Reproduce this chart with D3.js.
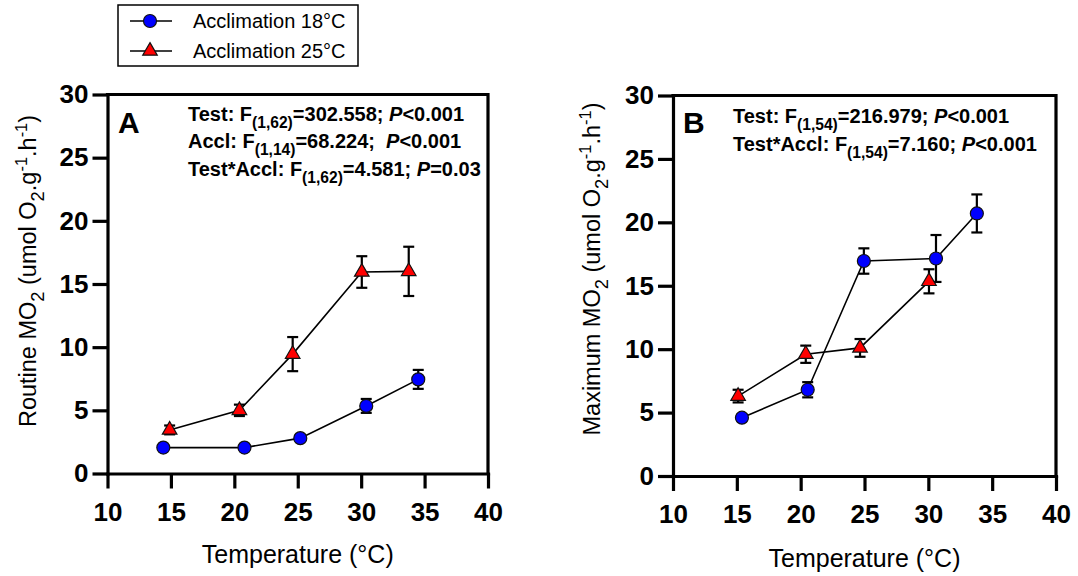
<!DOCTYPE html>
<html><head><meta charset="utf-8">
<script src="https://cdn.jsdelivr.net/npm/d3@7"></script>
<style>body{margin:0;background:#fff}svg{display:block}text{white-space:pre}</style>
</head><body><svg id="c" width="1078" height="576"></svg>
<script>
// ---- data ----
const xTicks = [10, 15, 20, 25, 30, 35, 40];
const yTicks = [0, 5, 10, 15, 20, 25, 30];
const seriesNames = ["Acclimation 18°C", "Acclimation 25°C"];

// Panel A: routine MO2
const tempA18 = [14.4, 20.8, 25.2, 30.4, 34.5];
const routine18 = [2.05, 2.05, 2.8, 5.35, 7.45];
const routine18Err = [0.15, 0.15, 0.2, 0.55, 0.75];
const tempA25 = [14.9, 20.4, 24.6, 30.05, 33.75];
const routine25 = [3.45, 5.0, 9.45, 15.95, 16.0];
const routine25Err = [0.35, 0.45, 1.35, 1.25, 1.95];

// Panel B: maximum MO2
const tempB18 = [15.4, 20.55, 24.95, 30.6, 33.8];
const max18 = [4.6, 6.8, 16.95, 17.15, 20.7];
const max18Err = [0.25, 0.6, 1.0, 1.85, 1.5];
const tempB25 = [15.1, 20.4, 24.65, 30.05];
const max25 = [6.3, 9.6, 10.1, 15.35];
const max25Err = [0.5, 0.68, 0.7, 0.95];

const annotA = [
  [{t:"Test: F"},{t:"(1,62)",sub:1},{t:"=302.558; "},{t:"P",it:1},{t:"<0.001"}],
  [{t:"Accl: F"},{t:"(1,14)",sub:1},{t:"=68.224;  "},{t:"P",it:1},{t:"<0.001"}],
  [{t:"Test*Accl: F"},{t:"(1,62)",sub:1},{t:"=4.581; "},{t:"P",it:1},{t:"=0.03"}]
];
const annotB = [
  [{t:"Test: F"},{t:"(1,54)",sub:1},{t:"=216.979; "},{t:"P",it:1},{t:"<0.001"}],
  [{t:"Test*Accl: F"},{t:"(1,54)",sub:1},{t:"=7.160; "},{t:"P",it:1},{t:"<0.001"}]
];
const yTitleA = [{t:"Routine MO"},{t:"2",sub:1},{t:" (umol O"},{t:"2",sub:1},{t:".g"},{t:"-1",sup:1},{t:".h"},{t:"-1",sup:1},{t:")"}];
const yTitleB = [{t:"Maximum MO"},{t:"2",sub:1},{t:" (umol O"},{t:"2",sub:1},{t:".g"},{t:"-1",sup:1},{t:".h"},{t:"-1",sup:1},{t:")"}];
const xTitle = "Temperature (°C)";

// ---- drawing ----
const FONT = "'Liberation Sans', Arial, Helvetica, sans-serif";
const svg = d3.select("#c").style("font-family", FONT);
svg.append("rect").attr("width",1078).attr("height",576).attr("fill","#fff");

function rich(textSel, parts, fs) {
  let shift = 0;
  parts.forEach(p => {
    const ts = textSel.append("tspan").text(p.t);
    let target = 0, size = fs;
    if (p.sub) { target = fs*0.33; size = fs*0.78; }
    if (p.sup) { target = -fs*0.38; size = fs*0.7; }
    ts.attr("dy", target - shift).attr("font-size", size);
    if (p.it) ts.attr("font-style","italic");
    shift = target;
  });
}

const triangle = d3.symbol().type(d3.symbolTriangle).size(92);

function panel(o) {
  const x = d3.scaleLinear().domain([10,40]).range([o.x0, o.x1]);
  const y = d3.scaleLinear().domain([0,30]).range([o.y0, o.y1]);
  const g = svg.append("g");

  const xa = g.append("g").attr("transform",`translate(0,${o.y0})`)
    .call(d3.axisBottom(x).tickValues(xTicks).tickSize(15).tickSizeOuter(0).tickPadding(14));
  const ya = g.append("g").attr("transform",`translate(${o.x0},0)`)
    .call(d3.axisLeft(y).tickValues(yTicks).tickSize(15).tickSizeOuter(0).tickPadding(4));
  [xa, ya].forEach(a => {
    a.selectAll("path.domain").attr("stroke","#000").attr("stroke-width",3.2).attr("stroke-linecap","square");
    a.selectAll(".tick line").attr("stroke","#000").attr("stroke-width",3.2);
    a.selectAll(".tick text").attr("fill","#000").attr("font-size",26).attr("font-weight","bold").attr("font-family",FONT);
  });
  // frame top & right
  g.append("path").attr("d",`M${x(10)},${y(30)}H${x(40)}V${y(0)}`)
    .attr("fill","none").attr("stroke","#000").attr("stroke-width",3.2).attr("stroke-linecap","square");

  // titles
  g.append("text").attr("x",(o.x0+o.x1)/2).attr("y",o.xTitleY).attr("text-anchor","middle")
    .attr("font-size",25).text(xTitle);
  const yt = g.append("text").attr("transform",`translate(${o.yTitleX},${o.yTitleC}) rotate(-90)`)
    .attr("text-anchor","middle").attr("font-size",23.5);
  rich(yt, o.yTitle, 23.5);

  g.append("text").attr("x",o.letterX).attr("y",133).attr("font-size",30).attr("font-weight","bold").text(o.letter);
  o.annot.forEach((line,i) => {
    const t = g.append("text").attr("x",o.annX).attr("y",o.annY[i]).attr("font-size",20).attr("font-weight","bold");
    rich(t, line, 20);
  });

  o.series.forEach(s => {
    const pts = s.xs.map((v,i)=>({x:v,y:s.ys[i],e:s.es[i]}));
    g.append("path").datum(pts).attr("fill","none").attr("stroke","#000").attr("stroke-width",1.6)
      .attr("d", d3.line().x(d=>x(d.x)).y(d=>y(d.y)));
    const eb = g.append("g").attr("stroke","#000").attr("stroke-width",2.2);
    pts.forEach(d => {
      const cx = x(d.x);
      eb.append("line").attr("x1",cx).attr("x2",cx).attr("y1",y(d.y-d.e)).attr("y2",y(d.y+d.e));
      eb.append("line").attr("x1",cx-5.5).attr("x2",cx+5.5).attr("y1",y(d.y-d.e)).attr("y2",y(d.y-d.e));
      eb.append("line").attr("x1",cx-5.5).attr("x2",cx+5.5).attr("y1",y(d.y+d.e)).attr("y2",y(d.y+d.e));
    });
    pts.forEach(d => drawMarker(g, s.kind, x(d.x), y(d.y)));
  });
}

function drawMarker(g, kind, cx, cy) {
  if (kind === 0) {
    g.append("circle").attr("cx",cx).attr("cy",cy).attr("r",6.5)
      .attr("fill","#0000ff").attr("stroke","#111").attr("stroke-width",1.2);
  } else {
    g.append("path").attr("d",triangle()).attr("transform",`translate(${cx},${cy})`)
      .attr("fill","#ff0000").attr("stroke","#111").attr("stroke-width",1.2);
  }
}

panel({x0:107.5, x1:488, y0:473.5, y1:94.5, letter:"A", letterX:118,
  xTitleY:563, yTitleX:36, yTitleC:271, yTitle:yTitleA,
  annot:annotA, annX:188, annY:[121,148,176],
  series:[{kind:0,xs:tempA18,ys:routine18,es:routine18Err},{kind:1,xs:tempA25,ys:routine25,es:routine25Err}]});
panel({x0:673, x1:1056, y0:476, y1:95.5, letter:"B", letterX:683,
  xTitleY:567, yTitleX:600, yTitleC:269, yTitle:yTitleB,
  annot:annotB, annX:733, annY:[123,151],
  series:[{kind:0,xs:tempB18,ys:max18,es:max18Err},{kind:1,xs:tempB25,ys:max25,es:max25Err}]});

// legend
const lg = svg.append("g");
lg.append("rect").attr("x",118).attr("y",5).attr("width",240).attr("height",61)
  .attr("fill","none").attr("stroke","#000").attr("stroke-width",1.5);
seriesNames.forEach((nm,i) => {
  const cy = 21 + i*30;
  lg.append("line").attr("x1",130).attr("x2",172).attr("y1",cy).attr("y2",cy).attr("stroke","#000").attr("stroke-width",1.6);
  drawMarker(lg, i, 150, cy);
  lg.append("text").attr("x",193).attr("y",cy).attr("dy","0.36em").attr("font-size",20).text(nm);
});
</script></body></html>
